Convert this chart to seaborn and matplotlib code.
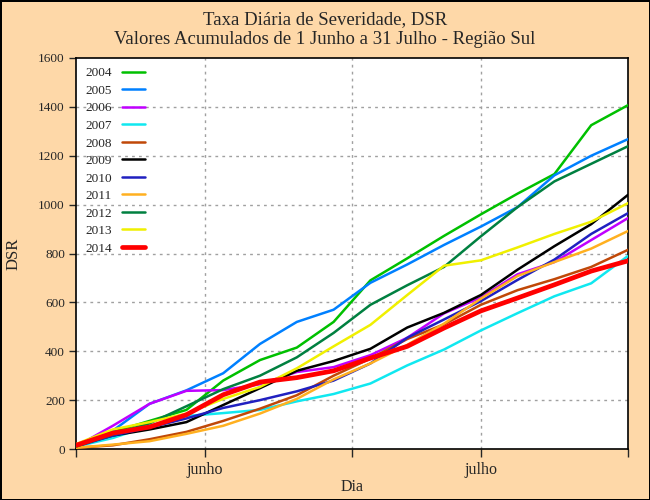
import matplotlib
matplotlib.use("Agg")
import matplotlib.pyplot as plt
import seaborn as sns
import pandas as pd

# ---- data ----
days = [0, 4, 8, 12, 16, 20, 24, 28, 32, 36, 40, 44, 48, 52, 56, 60]
years = ["2004", "2005", "2006", "2007", "2008", "2009", "2010", "2011", "2012", "2013", "2014"]
dsr_2004 = [15, 70, 115, 160, 280, 364, 415, 520, 690, 780, 872, 960, 1045, 1125, 1325, 1407]
dsr_2005 = [10, 75, 185, 240, 310, 430, 520, 570, 680, 755, 835, 910, 990, 1120, 1200, 1268]
dsr_2006 = [10, 95, 185, 238, 241, 265, 315, 335, 384, 455, 555, 620, 715, 765, 855, 945]
dsr_2007 = [10, 45, 95, 135, 147, 160, 195, 225, 268, 342, 407, 485, 556, 625, 678, 790]
dsr_2008 = [5, 15, 40, 70, 115, 165, 220, 300, 370, 450, 510, 590, 650, 695, 745, 815]
dsr_2009 = [15, 55, 80, 110, 180, 249, 320, 360, 410, 497, 557, 630, 734, 830, 920, 1040]
dsr_2010 = [10, 55, 88, 125, 168, 200, 236, 280, 350, 455, 530, 605, 692, 775, 880, 965]
dsr_2011 = [5, 18, 32, 62, 95, 145, 205, 285, 350, 426, 513, 615, 708, 765, 820, 892]
dsr_2012 = [10, 60, 105, 175, 245, 300, 375, 475, 590, 670, 745, 870, 990, 1095, 1167, 1239]
dsr_2013 = [20, 80, 110, 145, 205, 254, 330, 420, 508, 630, 750, 772, 825, 880, 930, 1006]
dsr_2014 = [15, 65, 90, 140, 222, 274, 292, 320, 372, 420, 495, 565, 618, 672, 728, 770]
series = [dsr_2004, dsr_2005, dsr_2006, dsr_2007, dsr_2008, dsr_2009,
          dsr_2010, dsr_2011, dsr_2012, dsr_2013, dsr_2014]
month_labels = ["junho", "julho"]

colors = ["#00c000", "#0080ff", "#c000ff", "#10e8f0", "#c04808", "#000000",
          "#2020c0", "#ffb020", "#008040", "#f0f000", "#ff0000"]
widths = [1.8] * 10 + [3.4]

sns.set_style("white")
plt.rcParams["font.family"] = ["Liberation Serif", "DejaVu Serif"]

bg = "#fed8a8"
fig = plt.figure(figsize=(6.5, 5), dpi=100, facecolor=bg, edgecolor="black", linewidth=2)
ax = fig.add_axes([76 / 650, 51 / 500, 552 / 650, 391 / 500])
ax.set_facecolor("white")

rows = []
for y, vals in zip(years, series):
    for d, v in zip(days, vals):
        rows.append({"Dia": d, "DSR": v, "Ano": y})
df = pd.DataFrame(rows)

for y, c, w in zip(years, colors, widths):
    sns.lineplot(data=df[df["Ano"] == y], x="Dia", y="DSR", color=c, lw=w,
                 label=y, ax=ax, zorder=3)

ax.set_xlim(0, 60)
ax.set_ylim(0, 1600)
ax.set_yticks(range(0, 1601, 200))
ax.set_xticks([0, 30, 60])
ax.set_xticks([14, 44], minor=True)
ax.set_xticklabels(["", "", ""])
ax.set_xticklabels(month_labels, minor=True, fontsize=11.5)
ax.tick_params(axis="y", labelsize=9.5, direction="out", length=5, width=1, left=True, pad=3)
ax.tick_params(axis="x", which="both", direction="out", length=6, width=1, bottom=True, pad=3)

for gy in range(200, 1600, 200):
    ax.axhline(gy, color="#a0a0a0", lw=1, ls=(0, (2, 3)), zorder=1)
for gx in [14, 30, 44]:
    ax.axvline(gx, color="#a0a0a0", lw=1, ls=(0, (2, 3)), zorder=1)

for s in ax.spines.values():
    s.set_color("black")
    s.set_linewidth(1.2)

ax.set_xlabel("Dia", fontsize=11.5, labelpad=1)
ax.set_ylabel("DSR", fontsize=12, labelpad=12)

fig.suptitle("Taxa Diária de Severidade, DSR\nValores Acumulados de 1 Junho a 31 Julho - Região Sul",
             fontsize=13.5, y=0.978, linespacing=1.25)

leg = ax.legend(loc="upper left", frameon=False, markerfirst=False, fontsize=9.5,
                handlelength=1.7, labelspacing=0.4, borderaxespad=0.3,
                handletextpad=0.8)

fig.savefig("out.png", dpi=100, facecolor=fig.get_facecolor(), edgecolor=fig.get_edgecolor())
